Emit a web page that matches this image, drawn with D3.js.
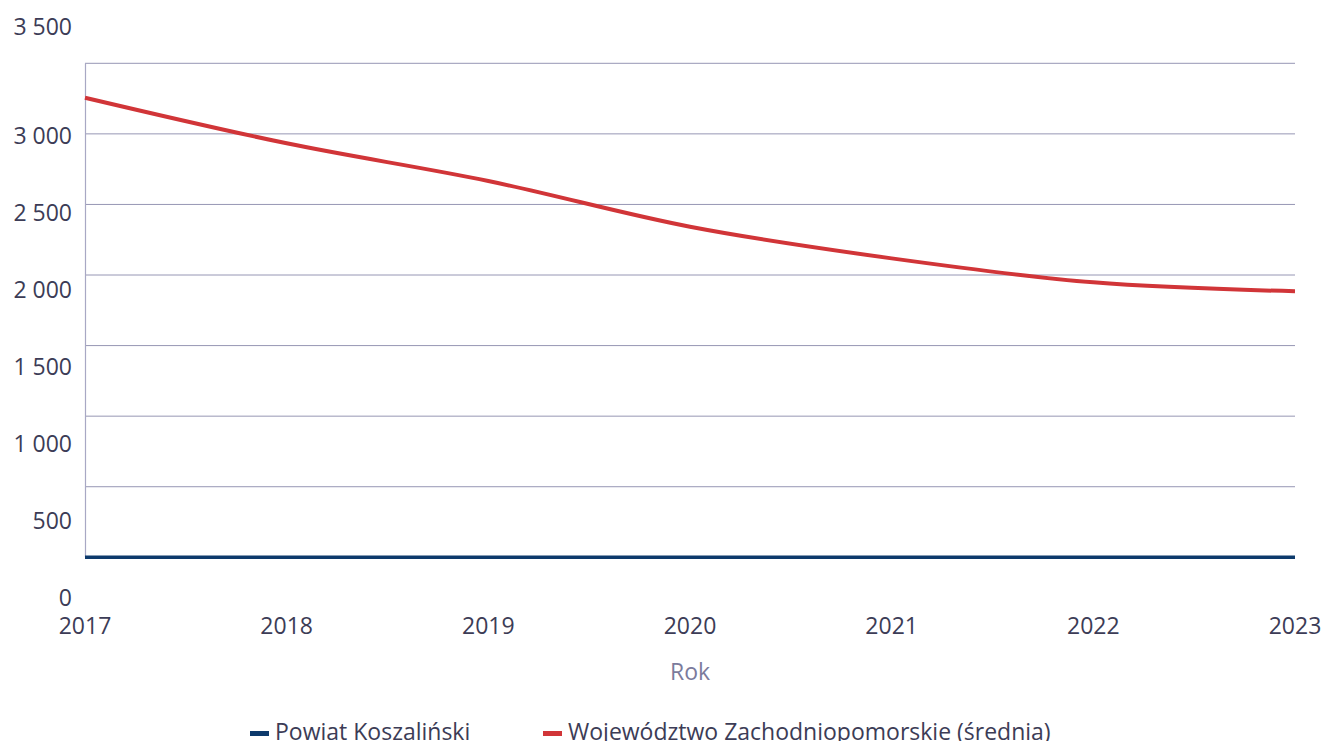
<!DOCTYPE html>
<html lang="pl">
<head>
<meta charset="UTF-8">
<title>Powiat Koszaliński</title>
<script src="https://d3js.org/d3.v7.min.js"></script>
<style>
    * { margin: 0; padding: 0; box-sizing: border-box; }
    body { background: #fff; width: 1323px; height: 741px; overflow: hidden; }
    svg { display: block; }
    .tick-label { font-family: 'Open Sans', sans-serif; font-size: 23px; fill: #3c3c56; }
    .axis-title { font-family: 'Liberation Sans Narrow', 'Open Sans', sans-serif; font-size: 23px; fill: #7b7b9c; }
    .legend-label { font-family: 'Liberation Sans Narrow', 'Open Sans', sans-serif; font-size: 23px; fill: #3c3c56; }
</style>
</head>
<body>
<div id="chart"></div>
<script>
    // data
    const years = [2017, 2018, 2019, 2020, 2021, 2022, 2023];
    const powiat = [0, 0, 0, 0, 0, 0, 0];
    const wojewodztwo = [3256, 2933, 2666, 2342, 2118, 1948, 1885];
    const yTicks = [0, 500, 1000, 1500, 2000, 2500, 3000, 3500];
    const seriesNames = ["Powiat Koszaliński", "Województwo Zachodniopomorskie (średnia)"];
    const seriesColors = ["#0d3a6c", "#d13538"];

    const width = 1323, height = 741;

    const svg = d3.select("#chart")
        .append("svg")
        .attr("width", width)
        .attr("height", height);

    const x = d3.scalePoint()
        .domain(years)
        .range([85, 1295]);

    const y = d3.scaleLinear()
        .domain([0, 3500])
        .range([557.3, 63.3]);

    // the tick labels sit on their own spacing, not on the grid
    const yLabel = d3.scaleLinear()
        .domain([0, 3000, 3500])
        .range([598, 136, 27]);

    const fmt = v => d3.format(",")(v).replace(/,/g, " ");

    // grid
    svg.append("g")
        .selectAll("line")
        .data(yTicks)
        .enter()
        .append("line")
        .attr("x1", x(2017))
        .attr("x2", x(2023))
        .attr("y1", d => y(d))
        .attr("y2", d => y(d))
        .attr("stroke", "#9696b4")
        .attr("stroke-width", 1);

    // left axis line
    svg.append("line")
        .attr("x1", x(2017) + 0.5)
        .attr("x2", x(2017) + 0.5)
        .attr("y1", y(3500))
        .attr("y2", y(0))
        .attr("stroke", "#a8a8c4")
        .attr("stroke-width", 1.2);

    // y labels
    svg.append("g")
        .selectAll("text")
        .data(yTicks)
        .enter()
        .append("text")
        .attr("class", "tick-label")
        .attr("x", 72)
        .attr("y", d => yLabel(d))
        .attr("dy", "0.36em")
        .attr("text-anchor", "end")
        .text(fmt);

    // x labels
    svg.append("g")
        .selectAll("text")
        .data(years)
        .enter()
        .append("text")
        .attr("class", "tick-label")
        .attr("x", d => x(d))
        .attr("y", 626)
        .attr("dy", "0.36em")
        .attr("text-anchor", "middle")
        .text(d => d);

    svg.append("text")
        .attr("class", "axis-title")
        .attr("x", 690)
        .attr("y", 672)
        .attr("dy", "0.36em")
        .attr("text-anchor", "middle")
        .text("Rok");

    // lines
    const line = d3.line()
        .x((d, i) => x(years[i]))
        .y(d => y(d))
        .curve(d3.curveMonotoneX);

    [powiat, wojewodztwo].forEach((values, i) => {
        svg.append("path")
            .datum(values)
            .attr("fill", "none")
            .attr("stroke", seriesColors[i])
            .attr("stroke-width", i === 0 ? 3.5 : 4)
            .attr("d", line);
    });

    // legend
    const legendX = [250, 543];
    seriesNames.forEach((name, i) => {
        svg.append("rect")
            .attr("x", legendX[i])
            .attr("y", 731)
            .attr("width", 19)
            .attr("height", 5)
            .attr("fill", seriesColors[i]);
        svg.append("text")
            .attr("class", "legend-label")
            .attr("x", legendX[i] + 25)
            .attr("y", 732)
            .attr("dy", "0.36em")
            .text(name);
    });
</script>
</body>
</html>
